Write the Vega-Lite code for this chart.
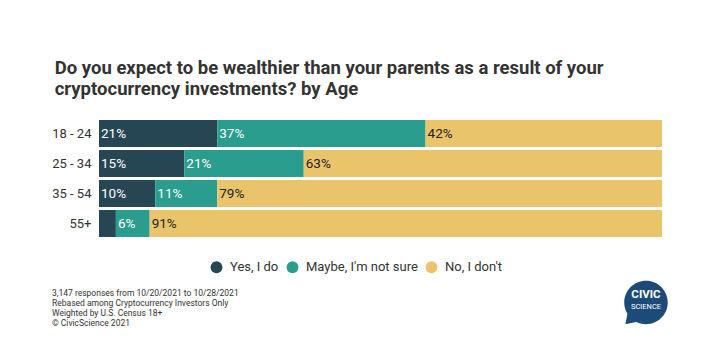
{
  "$schema": "https://vega.github.io/schema/vega-lite/v6.json",
  "padding": {"left": 51, "top": 58.5, "right": 0, "bottom": 0},
  "background": "white",
  "title": {
    "text": ["Do you expect to be wealthier than your parents as a result of your", "cryptocurrency investments? by Age"],
    "anchor": "start",
    "font": "Roboto",
    "fontSize": 18.5,
    "fontWeight": "bold",
    "color": "#333333",
    "lineHeight": 21,
    "offset": 20,
    "dx": 3
  },
  "config": {
    "view": {"stroke": null},
    "font": "Roboto"
  },
  "spacing": 6,
  "resolve": {"scale": {"color": "independent"}, "legend": {"color": "independent"}},
  "vconcat": [
    {
      "width": 563,
      "height": 120,
      "data": {
        "values": [
          {"age": "18 - 24", "answer": "Yes, I do", "rank": 1, "pct": 0.21},
          {"age": "18 - 24", "answer": "Maybe, I'm not sure", "rank": 2, "pct": 0.37},
          {"age": "18 - 24", "answer": "No, I don't", "rank": 3, "pct": 0.42},
          {"age": "25 - 34", "answer": "Yes, I do", "rank": 1, "pct": 0.15},
          {"age": "25 - 34", "answer": "Maybe, I'm not sure", "rank": 2, "pct": 0.21},
          {"age": "25 - 34", "answer": "No, I don't", "rank": 3, "pct": 0.63},
          {"age": "35 - 54", "answer": "Yes, I do", "rank": 1, "pct": 0.10},
          {"age": "35 - 54", "answer": "Maybe, I'm not sure", "rank": 2, "pct": 0.11},
          {"age": "35 - 54", "answer": "No, I don't", "rank": 3, "pct": 0.79},
          {"age": "55+", "answer": "Yes, I do", "rank": 1, "pct": 0.03},
          {"age": "55+", "answer": "Maybe, I'm not sure", "rank": 2, "pct": 0.06},
          {"age": "55+", "answer": "No, I don't", "rank": 3, "pct": 0.91}
        ]
      },
      "transform": [
        {"stack": "pct", "groupby": ["age"], "sort": [{"field": "rank", "order": "ascending"}], "offset": "normalize", "as": ["s0", "s1"]}
      ],
      "encoding": {
        "y": {
          "field": "age", "type": "nominal", "sort": ["18 - 24", "25 - 34", "35 - 54", "55+"],
          "scale": {"paddingInner": 0.1, "paddingOuter": 0.05},
          "axis": {"title": null, "domain": false, "ticks": false, "labelPadding": 8, "labelFontSize": 13, "labelColor": "#333333", "labelFont": "Roboto"}
        }
      },
      "layer": [
        {
          "mark": {"type": "bar"},
          "encoding": {
            "x": {"field": "s0", "type": "quantitative", "scale": {"domain": [0, 1], "nice": false}, "axis": null},
            "x2": {"field": "s1"},
            "color": {
              "field": "answer", "type": "nominal",
              "scale": {"domain": ["Yes, I do", "Maybe, I'm not sure", "No, I don't"], "range": ["#264653", "#2a9d8f", "#e9c46a"]},
              "legend": {
                "title": null, "orient": "none", "direction": "horizontal", "legendX": 111, "legendY": 142,
                "symbolType": "circle", "symbolSize": 140, "symbolStrokeWidth": 0,
                "labelFontSize": 13, "labelFont": "Roboto", "labelColor": "#333333",
                "columnPadding": 7, "labelOffset": 7
              }
            }
          }
        },
        {
          "transform": [{"filter": "datum.pct >= 0.05"}],
          "mark": {"type": "text", "align": "left", "baseline": "middle", "dx": 2, "fontSize": 13.5, "font": "Roboto"},
          "encoding": {
            "x": {"field": "s0", "type": "quantitative"},
            "text": {"field": "pct", "type": "quantitative", "format": ".0%"},
            "color": {"condition": {"test": "datum.answer === \"No, I don't\"", "value": "#222222"}, "value": "#ffffff"}
          }
        }
      ]
    },
    {
      "spacing": 20,
      "hconcat": [
        {
          "width": 505,
          "height": 51,
          "data": {
            "values": [
              {"line": 1, "note": "3,147 responses from 10/20/2021 to 10/28/2021"},
              {"line": 2, "note": "Rebased among Cryptocurrency Investors Only"},
              {"line": 3, "note": "Weighted by U.S. Census 18+"},
              {"line": 4, "note": "© CivicScience 2021"}
            ]
          },
          "mark": {"type": "text", "align": "left", "baseline": "middle", "font": "Roboto", "fontSize": 8.5, "color": "#333333", "dx": -47},
          "encoding": {
            "x": {"value": 0},
            "y": {"field": "line", "type": "ordinal", "scale": {"type": "point", "padding": 1.4}, "axis": null},
            "text": {"field": "note"}
          }
        },
        {
          "width": 44,
          "height": 40,
          "data": {"values": [{"brand": "CivicScience", "top": "CIVIC", "bottom": "SCIENCE"}]},
          "layer": [
            {
              "mark": {"type": "point", "filled": true, "color": "#1d4b79", "opacity": 1, "size": 1890,
                "shape": "M1,0A1,1,0,1,1,-1,0A1,1,0,1,1,1,0ZM-0.85,0.5L-0.45,0.9L-0.95,1.0Z"},
              "encoding": {}
            },
            {
              "mark": {"type": "text", "color": "white", "font": "Roboto", "fontWeight": "bold", "fontSize": 11.5, "dy": -7.5, "baseline": "middle"},
              "encoding": {"text": {"field": "top"}}
            },
            {
              "mark": {"type": "text", "color": "white", "font": "Roboto", "fontSize": 7.5, "dy": 4, "baseline": "middle"},
              "encoding": {"text": {"field": "bottom"}}
            }
          ]
        }
      ]
    }
  ]
}
